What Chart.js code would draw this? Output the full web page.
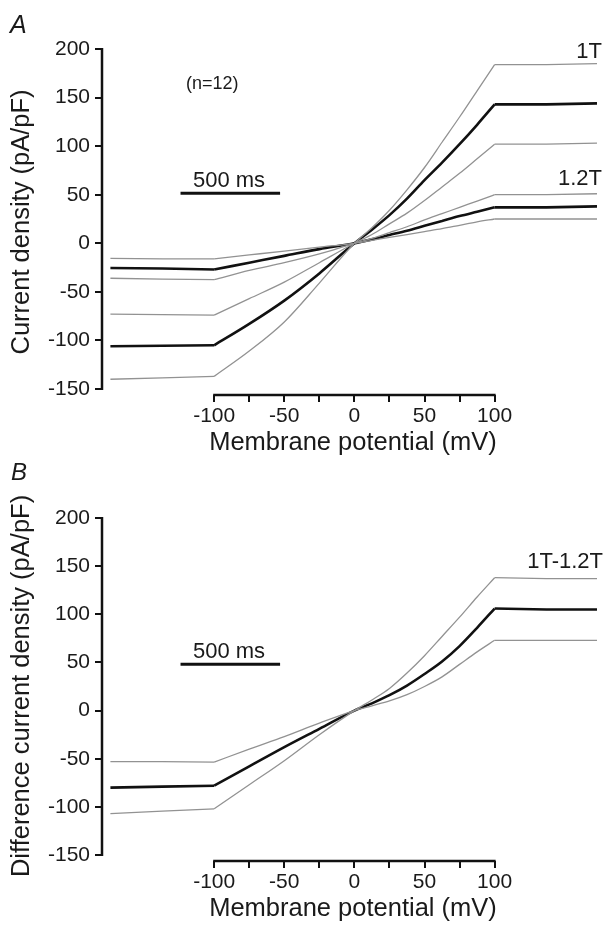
<!DOCTYPE html>
<html><head><meta charset="utf-8">
<script src="https://cdn.jsdelivr.net/npm/chart.js@4.4.0/dist/chart.umd.min.js"></script>
<style>
html,body{margin:0;padding:0;background:#fff;}
#wrapA{position:absolute;left:0;top:0;width:605px;height:462px;}
#wrapB{position:absolute;left:0;top:440px;width:605px;height:485px;}
canvas{display:block;background:transparent;}
</style></head><body>
<div id="wrapA"><canvas id="cA" width="605" height="462"></canvas></div>
<div id="wrapB"><canvas id="cB" width="605" height="485"></canvas></div>
<script>
// ---- data ----
// trace abscissa: left plateau (step at -100 mV), ramp -100..100 mV, right plateau (step at +100 mV)
const xTrace = [-174, -137, -100, -75, -50, -25, 0, 12.5, 25, 37.5, 50, 62.5, 75, 87.5, 100, 137, 173];

// Panel A: current density (pA/pF)
const a1T_mean  = [-106, -105.5, -105, -83, -59, -31, 0, 14, 29, 46, 65, 83, 102, 122, 143, 143, 144];
const a1T_outer = [-140, -138.5, -137, -111, -81, -41, 0, 16, 34, 55, 78, 104, 130, 157, 184, 184, 185];
const a1T_inner = [-73, -73.5, -74, -57, -40, -20, 0, 9, 20, 31, 44, 58, 72, 87, 102, 102, 103];
const a12T_mean  = [-25.5, -26, -27, -20, -13, -6, 0, 4, 8.5, 13, 18, 23, 28, 32.5, 37, 37, 38];
const a12T_outer = [-36, -37, -37.5, -28, -20, -11, 0, 5, 11, 17, 24, 30.5, 37, 43.5, 50, 50, 51];
const a12T_inner = [-15.5, -16, -16, -12, -8, -4, 0, 3, 6, 9, 12, 15, 18.5, 22, 25, 25, 25];

// Panel B: difference current density 1T-1.2T (pA/pF)
const bDiff_mean  = [-80, -79, -78, -58, -38, -19, 0, 7.5, 16, 26, 38, 51, 67, 86, 106, 105, 105];
const bDiff_outer = [-107, -104.5, -102, -77, -52, -25, 0, 11, 23, 39, 57, 77, 97, 118, 138, 137, 137];
const bDiff_inner = [-53, -53, -53.5, -40, -27, -13, 0, 5, 10, 16.5, 25, 35, 48, 61, 73, 73, 73];

// 500 ms scale bar (in axis units)
const scaleBarX = [-124, -53];
const scaleBarYA = 51.5;
const scaleBarYB = 48;

// axis ticks
const xTickValues = [-100, -75, -50, -25, 0, 25, 50, 75, 100];
const yTickValues = [-150, -100, -50, 0, 50, 100, 150, 200];

// ---- rendering ----
const FONT = "'Liberation Sans', Arial, Helvetica, sans-serif";
Chart.defaults.font.family = FONT;
Chart.defaults.color = '#1a1a1a';

const GRAY = '#929292', BLACK = '#111';
const RAMP_START = xTrace.indexOf(-100), RAMP_END = xTrace.indexOf(100);
const toXY = (ys, a, b) => ys.slice(a, b + 1).map((v, i) => ({x: xTrace[a + i], y: v}));
// each trace = left step plateau (straight) + ramp (smooth) + right step plateau (straight)
function trace(ys, color, width) {
  const base = {borderColor: color, borderWidth: width, pointRadius: 0, borderJoinStyle: 'round'};
  return [
    Object.assign({data: toXY(ys, 0, RAMP_START), tension: 0}, base),
    Object.assign({data: toXY(ys, RAMP_START, RAMP_END), cubicInterpolationMode: 'monotone'}, base),
    Object.assign({data: toXY(ys, RAMP_END, ys.length - 1), tension: 0}, base)
  ];
}
const barDs = (yv) => ({data: scaleBarX.map(x => ({x, y: yv})), borderColor: BLACK, borderWidth: 3, pointRadius: 0, borderCapStyle: 'butt'});

const axisLines = {
  id: 'axisLines',
  afterDraw(chart) {
    const {ctx, scales: {x, y}, chartArea} = chart;
    ctx.save();
    ctx.strokeStyle = BLACK; ctx.lineWidth = 2.5; ctx.lineCap = 'butt';
    ctx.beginPath();
    ctx.moveTo(chartArea.left, y.getPixelForValue(yTickValues[yTickValues.length - 1]) - 1);
    ctx.lineTo(chartArea.left, y.getPixelForValue(yTickValues[0]) + 1);
    ctx.stroke();
    ctx.beginPath();
    ctx.moveTo(x.getPixelForValue(xTickValues[0]) - 1, chartArea.bottom);
    ctx.lineTo(x.getPixelForValue(xTickValues[xTickValues.length - 1]) + 1, chartArea.bottom);
    ctx.stroke();
    ctx.restore();
  }
};

const textPlugin = {
  id: 'texts',
  afterDraw(chart, args, opts) {
    const ctx = chart.ctx;
    ctx.save();
    ctx.fillStyle = '#1a1a1a';
    ctx.textBaseline = 'alphabetic';
    (opts.items || []).forEach(it => {
      ctx.font = it.font;
      ctx.textAlign = it.align || 'left';
      ctx.fillText(it.text, it.x, it.y);
    });
    ctx.restore();
  }
};

function makeOptions(xAxisHeight, padTop, titlePadBottom, yTitle, items) {
  return {
    responsive: false,
    animation: false,
    events: [],
    layout: {padding: {top: padTop, right: 1, left: 0, bottom: 0}},
    plugins: {legend: {display: false}, tooltip: {enabled: false}, texts: {items}},
    scales: {
      x: {
        type: 'linear', min: -180, max: 178,
        afterBuildTicks: (s) => { s.ticks = xTickValues.map(v => ({value: v})); },
        afterFit: (s) => { s.height = xAxisHeight; },
        border: {display: false},
        grid: {drawOnChartArea: false, drawTicks: true, tickLength: 7, color: BLACK, lineWidth: 2},
        ticks: {
          autoSkip: false, maxRotation: 0, padding: 2, color: '#1a1a1a',
          font: {size: 21},
          callback: (v) => (v % 50 === 0 ? String(v) : '')
        },
        title: {display: true, text: 'Membrane potential (mV)', font: {size: 25.5}, color: '#1a1a1a',
                padding: {top: 0, bottom: titlePadBottom}}
      },
      y: {
        type: 'linear', min: -156.2, max: 200,
        afterBuildTicks: (s) => { s.ticks = yTickValues.map(v => ({value: v})); },
        afterFit: (s) => { s.width = 102; },
        border: {display: false},
        grid: {drawOnChartArea: false, drawTicks: true, tickLength: 7, color: BLACK, lineWidth: 2},
        ticks: {padding: 5, color: '#1a1a1a', font: {size: 21}, callback: (v) => String(v)},
        title: {display: true, text: yTitle, font: {size: 25.5}, color: '#1a1a1a', padding: {top: 7, bottom: 0}}
      }
    }
  };
}

new Chart(document.getElementById('cA'), {
  type: 'line',
  data: {datasets: [
    ...trace(a1T_outer, GRAY, 1.3), ...trace(a1T_inner, GRAY, 1.3),
    ...trace(a12T_outer, GRAY, 1.3), ...trace(a12T_inner, GRAY, 1.3),
    ...trace(a1T_mean, BLACK, 2.6), ...trace(a12T_mean, BLACK, 2.6),
    barDs(scaleBarYA)
  ]},
  options: makeOptions(67, 49, 4, 'Current density (pA/pF)', [
    {text: 'A', x: 10, y: 33, font: `italic 25px ${FONT}`},
    {text: '(n=12)', x: 186, y: 89, font: `18px ${FONT}`},
    {text: '500 ms', x: 229, y: 187, font: `22px ${FONT}`, align: 'center'},
    {text: '1T', x: 602, y: 58, font: `22px ${FONT}`, align: 'right'},
    {text: '1.2T', x: 602, y: 185, font: `22px ${FONT}`, align: 'right'}
  ]),
  plugins: [axisLines, textPlugin]
});

new Chart(document.getElementById('cB'), {
  type: 'line',
  data: {datasets: [
    ...trace(bDiff_outer, GRAY, 1.3), ...trace(bDiff_inner, GRAY, 1.3),
    ...trace(bDiff_mean, BLACK, 2.6),
    barDs(scaleBarYB)
  ]},
  options: makeOptions(64, 78, 1, ' Difference current density (pA/pF)', [
    {text: 'B', x: 11, y: 40, font: `italic 24px ${FONT}`},
    {text: '500 ms', x: 229, y: 218, font: `22px ${FONT}`, align: 'center'},
    {text: '1T-1.2T', x: 603, y: 128, font: `22px ${FONT}`, align: 'right'}
  ]),
  plugins: [axisLines, textPlugin]
});
</script>
</body></html>
